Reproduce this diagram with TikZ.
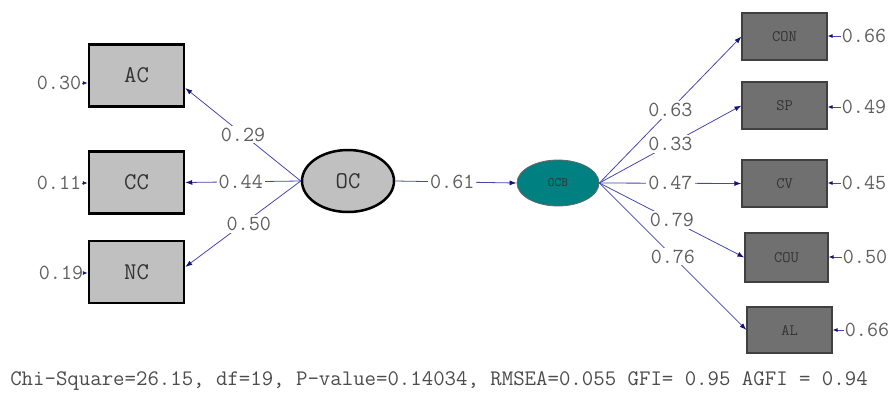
\documentclass[tikz,border=0pt]{standalone}
\usetikzlibrary{arrows.meta,shapes.geometric,calc}
\definecolor{pathblue}{RGB}{70,70,175}
\definecolor{tipblue}{RGB}{20,20,120}
\definecolor{lblgray}{RGB}{95,95,95}
\definecolor{boxlight}{RGB}{192,192,192}
\definecolor{boxdark}{RGB}{112,112,112}
\definecolor{ocbteal}{RGB}{0,128,128}
\tikzset{
  lightbox/.style={draw=black, line width=2.5, fill=boxlight, minimum width=95, minimum height=62, inner sep=0, font=\fontsize{24}{24}\selectfont\ttfamily, text=black!80},
  darkbox/.style={draw=black!75, line width=1.2, fill=boxdark, minimum width=85, minimum height=47, inner sep=0, font=\fontsize{16}{16}\selectfont\ttfamily, text=black!80},
  val/.style={font=\fontsize{21.5}{22}\selectfont\ttfamily, text=lblgray, inner sep=1},
  pathlbl/.style={val, fill=white, inner sep=2},
  conn/.style={draw=pathblue, line width=0.8, -{Latex[length=7,width=5,color=tipblue]}},
  errconn/.style={draw=pathblue, line width=0.8, -{Latex[length=5,width=4,color=tipblue]}}
}
\begin{document}
\begin{tikzpicture}[x=1pt,y=-1pt]
\useasboundingbox (0,0) rectangle (891,394);
% left indicators
\node[lightbox] (AC) at (136.5,75.5) {AC};
\node[lightbox] (CC) at (136.5,182.5) {CC};
\node[lightbox] (NC) at (136.5,272) {NC};
\node[ellipse, draw=black, line width=2.5, fill=boxlight, minimum width=92, minimum height=62, inner sep=0, font=\fontsize{24}{24}\selectfont\ttfamily, text=black!80] (OC) at (348,181) {OC};
\node[ellipse, draw=black!60, line width=0.8, fill=ocbteal, minimum width=82, minimum height=46, inner sep=0, font=\fontsize{13}{13}\selectfont\ttfamily, text=black!80] (OCB) at (558,183) {OCB};
% right indicators
\node[darkbox] (CON) at (784.5,36.5) {CON};
\node[darkbox] (SP) at (784.5,105.5) {SP};
\node[darkbox] (CV) at (784.5,183.5) {CV};
\node[darkbox, minimum width=83, minimum height=49] (COU) at (786.5,257.5) {COU};
\node[darkbox, minimum height=46] (AL) at (789.5,330) {AL};
% error values
\node[val] (eAC) at (59,83) {0.30};
\node[val] (eCC) at (59,183) {0.11};
\node[val] (eNC) at (61,273) {0.19};
\node[val] (eCON) at (864,36) {0.66};
\node[val] (eSP) at (864,107) {0.49};
\node[val] (eCV) at (864,183) {0.45};
\node[val] (eCOU) at (865,257) {0.50};
\node[val] (eAL) at (867,330) {0.66};
\draw[errconn] (eAC.east) -- (eAC.east -| AC.west);
\draw[errconn] (eCC.east) -- (eCC.east -| CC.west);
\draw[errconn] (eNC.east) -- (eNC.east -| NC.west);
\draw[errconn] (eCON.west) -- (eCON.west -| CON.east);
\draw[errconn] (eSP.west) -- (eSP.west -| SP.east);
\draw[errconn] (eCV.west) -- (eCV.west -| CV.east);
\draw[errconn] (eCOU.west) -- (eCOU.west -| COU.east);
\draw[errconn] (eAL.west) -- (eAL.west -| AL.east);
% loadings
\draw[conn] (OC.west) -- node[pathlbl, pos=0.5] (l1) {0.29} ([yshift=-12.5pt]AC.east);
\draw[conn] (OC.west) -- node[pathlbl, pos=0.52] (l2) {0.44} (CC.east);
\draw[conn] (OC.west) -- node[pathlbl, pos=0.45, yshift=-4pt] (l3) {0.50} ([yshift=5pt]NC.east);
\draw[conn] (OC.east) -- node[pathlbl, pos=0.47] (l4) {0.61} (OCB.west);
\draw[conn] (OCB.east) -- node[pathlbl, pos=0.5] (l5) {0.63} (CON.west);
\draw[conn] (OCB.east) -- node[pathlbl, pos=0.5] (l6) {0.33} (SP.west);
\draw[conn] (OCB.east) -- node[pathlbl, pos=0.5] (l7) {0.47} (CV.west);
\draw[conn] (OCB.east) -- node[pathlbl, pos=0.5] (l8) {0.79} (COU.west);
\draw[conn] (OCB.east) -- node[pathlbl, pos=0.5] (l9) {0.76} (AL.west);
% fit statistics
\node[val, font=\fontsize{22.2}{23}\selectfont\ttfamily, text=black!70] (fit) at (439,381) {Chi-Square=26.15, df=19, P-value=0.14034, RMSEA=0.055 GFI= 0.95 AGFI = 0.94};
\end{tikzpicture}
\end{document}
